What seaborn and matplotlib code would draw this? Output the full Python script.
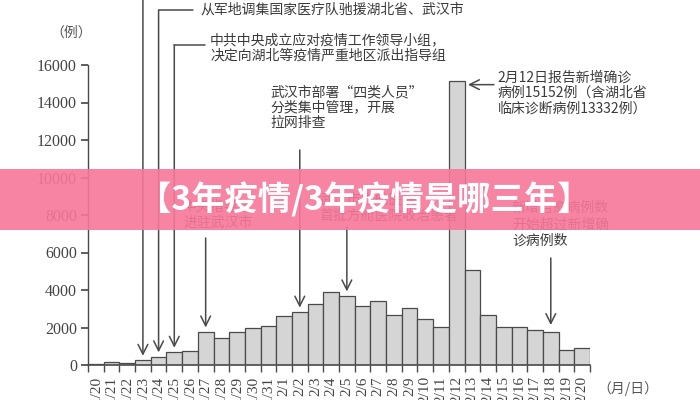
import matplotlib
matplotlib.use("Agg")
import matplotlib.pyplot as plt
import seaborn as sns
from matplotlib.patches import Rectangle

sns.set_theme(style="white")
plt.rcParams['font.family'] = ['Noto Sans CJK SC', 'DejaVu Sans']

# daily new confirmed cases
dates = ["1/20", "1/21", "1/22", "1/23", "1/24", "1/25", "1/26", "1/27", "1/28", "1/29",
         "1/30", "1/31", "2/1", "2/2", "2/3", "2/4", "2/5", "2/6", "2/7", "2/8",
         "2/9", "2/10", "2/11", "2/12", "2/13", "2/14", "2/15", "2/16", "2/17", "2/18",
         "2/19", "2/20"]
cases = [77, 149, 131, 259, 444, 688, 769, 1771, 1459, 1737,
         1981, 2099, 2590, 2829, 3235, 3887, 3694, 3143, 3399, 2656,
         3062, 2478, 2015, 15152, 5090, 2641, 2008, 2048, 1886, 1749,
         820, 889]
yticks = [0, 2000, 4000, 6000, 8000, 10000, 12000, 14000, 16000]

grey = "#4a4a4a"
txt = "#3a3a3a"

fig = plt.figure(figsize=(7, 4), dpi=100)
ax = fig.add_axes([88 / 700, 35 / 400, 502 / 700, 365 / 400])

sns.barplot(x=dates, y=cases, ax=ax, color="#d5d5d5", edgecolor=grey,
            linewidth=0.9, width=1.0, saturation=1)

ymax = 365 / 0.01875
ax.set_xlim(-0.5, len(dates) - 0.5)
ax.set_ylim(0, ymax)
ax.set_xlabel("")
ax.set_ylabel("")

# axes styling
for s in ["top", "right"]:
    ax.spines[s].set_visible(False)
ax.spines["left"].set_bounds(0, 16000)
ax.spines["left"].set_color(grey)
ax.spines["bottom"].set_color(grey)
ax.spines["left"].set_linewidth(1)
ax.spines["bottom"].set_linewidth(1.2)

ax.set_yticks(yticks)
ax.set_yticklabels([str(v) for v in yticks], family="Liberation Serif",
                   fontsize=11.5, color="#444444")
ax.tick_params(axis="y", left=True, direction="out", length=5, color=grey, pad=3)

ax.set_xticks(range(len(dates)))
ax.set_xticklabels(dates, rotation=90, family="Liberation Serif",
                   fontsize=11, color="#444444", va="top")
ax.set_xticks([i - 0.5 for i in range(len(dates) + 1)], minor=True)
ax.tick_params(axis="x", which="major", length=0, pad=8)
ax.tick_params(axis="x", which="minor", bottom=True, direction="out",
               length=5, color=grey)

ax.text(50 / 700, 367 / 400, "（例）", transform=fig.transFigure, fontsize=10,
        color="#555555", va="center", ha="left")
ax.text(31.95, -1250, "（月/日）", fontsize=10, color="#555555",
        va="center", ha="left", clip_on=False)

arrow = dict(arrowstyle="->,head_length=0.7,head_width=0.35", lw=1.1,
             color=grey, shrinkA=0, shrinkB=0, mutation_scale=10)


def py(p):
    # pixel row in the picture -> value on the y axis
    return (365 - p) / 0.01875


def px(p):
    # pixel column in the picture -> bar position
    return (p - 88) / 15.69 - 0.5


def down(i, top, gap=230):
    ax.annotate("", xy=(i, cases[i] + gap), xytext=(i, top),
                arrowprops=arrow, annotation_clip=False)


# 1/23: line comes in from above the picture
down(3, ymax + 500)

# 1/24
down(4, py(10))
ax.plot([4, px(193)], [py(10), py(10)], color=grey, lw=1.1, clip_on=False)
ax.text(px(200), py(10), "从军地调集国家医疗队驰援湖北省、武汉市", fontsize=10,
        color=txt, va="center", ha="left")

# 1/25
down(5, py(45))
ax.plot([5, px(205)], [py(45), py(45)], color=grey, lw=1.1, clip_on=False)
ax.text(px(210), py(33), "中共中央成立应对疫情工作领导小组，\n决定向湖北等疫情严重地区派出指导组",
        fontsize=10, color=txt, va="top", ha="left", linespacing=1.15)

# 1/27
down(7, py(238))
ax.text(px(183), py(200), "中央指导组\n进驻武汉市", fontsize=10, color=txt,
        va="top", ha="left", linespacing=1.15)

# 2/2
down(13, py(150))
ax.text(px(270), py(85), "武汉市部署“四类人员”\n分类集中管理，开展\n拉网排查",
        fontsize=10, color=txt, va="top", ha="left", linespacing=1.15)

# 2/5
down(16, py(227))
ax.text(px(319), py(193), "武汉市方舱医院\n首批方舱医院收治患者", fontsize=10, color=txt,
        va="top", ha="left", linespacing=1.15)

# 2/12
ax.annotate("", xy=(px(468), cases[23] - 200), xytext=(px(494), cases[23] - 200),
            arrowprops=arrow, annotation_clip=False)
ax.text(px(498), py(71), "2月12日报告新增确诊\n病例15152例（含湖北省\n临床诊断病例13332例）",
        fontsize=10, color=txt, va="top", ha="left", linespacing=1.1)

# 2/18
down(29, py(258), gap=380)
ax.text(px(512), py(201), "新增治愈病例数\n开始超过新增确\n诊病例数", fontsize=10,
        color=txt, va="top", ha="left", linespacing=1.2)

# pink banner across the picture
fig.add_artist(Rectangle((0, 170 / 400), 1, 61 / 400, transform=fig.transFigure,
                         facecolor="#f8779a", alpha=0.9, edgecolor="none", zorder=10))
fig.text(0.52, 0.5, "【3年疫情/3年疫情是哪三年】", fontsize=24, fontweight="bold",
         color="white", ha="center", va="center", zorder=11)

plt.savefig("out.png", dpi=100)
